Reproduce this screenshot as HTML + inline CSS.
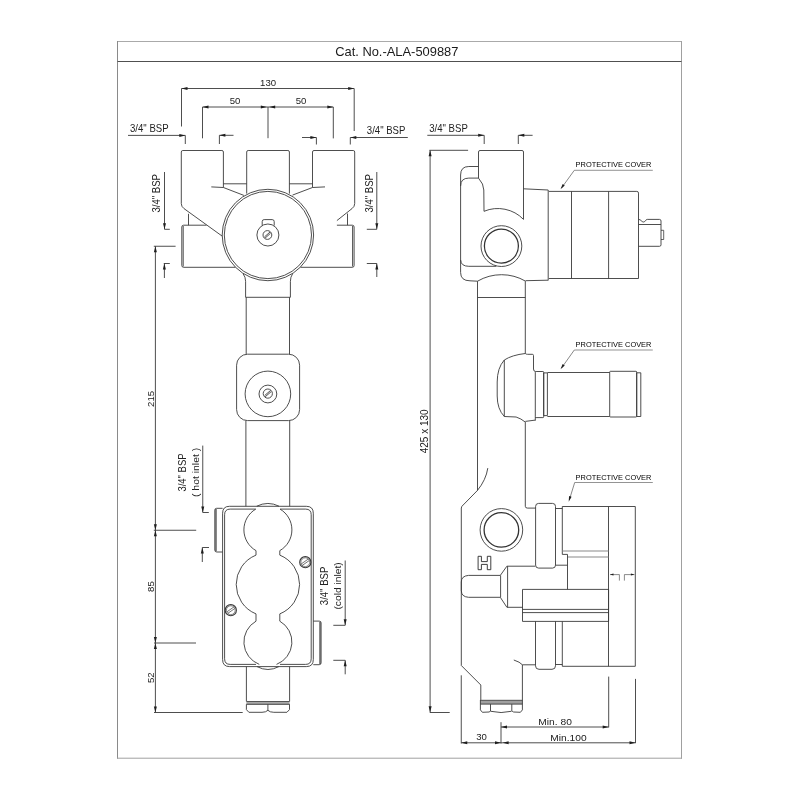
<!DOCTYPE html>
<html><head><meta charset="utf-8"><title>Cat. No.-ALA-509887</title>
<style>
html,body{margin:0;padding:0;background:#fff;}
svg{display:block;will-change:transform;}
svg text{font-family:"Liberation Sans", sans-serif;}
.ar{fill:#1e1e1e;stroke:none;}
</style></head>
<body>
<svg width="800" height="800" viewBox="0 0 800 800">
<rect width="800" height="800" fill="#fff"/>
<g fill="none" stroke="#3a3a3a" stroke-width="0.9" stroke-linecap="butt" stroke-linejoin="round">
<line x1="117.5" y1="41.5" x2="681.5" y2="41.5" stroke-width="1" stroke="#aaa"/>
<line x1="117.5" y1="41" x2="117.5" y2="758.7" stroke-width="1" stroke="#8a8a8a"/>
<line x1="681.5" y1="41" x2="681.5" y2="758.7" stroke-width="1" stroke="#a0a0a0"/>
<line x1="117" y1="758.2" x2="682" y2="758.2" stroke-width="1" stroke="#a0a0a0"/>
<line x1="117.5" y1="61.5" x2="681.5" y2="61.5" stroke-width="1" stroke="#505050"/>
<text x="335.2" y="56" font-size="12.6" fill="#1a1a1a" stroke="none" textLength="123.2" lengthAdjust="spacingAndGlyphs">Cat. No.-ALA-509887</text>
<line x1="181.5" y1="88.5" x2="354.2" y2="88.5"/>
<path class="ar" d="M181.5,88.5 L187.5,87 L187.5,90 Z"/>
<path class="ar" d="M354.2,88.5 L348.2,90 L348.2,87 Z"/>
<line x1="181.5" y1="88.5" x2="181.5" y2="126.5"/>
<line x1="354.2" y1="88.5" x2="354.2" y2="131"/>
<text x="268.1" y="86.2" font-size="9.6" fill="#222" stroke="none" text-anchor="middle">130</text>
<line x1="202.5" y1="107" x2="333.3" y2="107"/>
<path class="ar" d="M202.5,107 L208.5,105.5 L208.5,108.5 Z"/>
<path class="ar" d="M266.8,107 L260.8,108.5 L260.8,105.5 Z"/>
<path class="ar" d="M269.2,107 L275.2,105.5 L275.2,108.5 Z"/>
<path class="ar" d="M333.3,107 L327.3,108.5 L327.3,105.5 Z"/>
<line x1="202.5" y1="107" x2="202.5" y2="138.3"/>
<line x1="268" y1="107" x2="268" y2="138.2"/>
<line x1="333.3" y1="107" x2="333.3" y2="138.4"/>
<text x="235" y="104.4" font-size="9.6" fill="#222" stroke="none" text-anchor="middle">50</text>
<text x="301" y="104.4" font-size="9.6" fill="#222" stroke="none" text-anchor="middle">50</text>
<text x="130" y="131.9" font-size="10.2" fill="#222" stroke="none" textLength="38.6" lengthAdjust="spacingAndGlyphs">3/4&quot; BSP</text>
<line x1="128" y1="135.4" x2="185.3" y2="135.4"/>
<path class="ar" d="M185.3,135.4 L179.3,136.9 L179.3,133.9 Z"/>
<line x1="185.3" y1="135.4" x2="185.3" y2="144"/>
<line x1="219.4" y1="135.3" x2="233.5" y2="135.3"/>
<path class="ar" d="M219.4,135.3 L225.4,133.8 L225.4,136.8 Z"/>
<line x1="219.4" y1="135.3" x2="219.4" y2="144"/>
<line x1="302" y1="137.5" x2="316.4" y2="137.5"/>
<path class="ar" d="M316.4,137.5 L310.4,139 L310.4,136 Z"/>
<line x1="316.4" y1="137.5" x2="316.4" y2="144.5"/>
<line x1="350.3" y1="137.5" x2="407.8" y2="137.5"/>
<path class="ar" d="M350.3,137.5 L356.3,136 L356.3,139 Z"/>
<line x1="350.3" y1="137.5" x2="350.3" y2="144.5"/>
<text x="366.8" y="133.8" font-size="10.2" fill="#222" stroke="none" textLength="38.6" lengthAdjust="spacingAndGlyphs">3/4&quot; BSP</text>
<text x="160.2" y="212.6" font-size="10.2" fill="#222" stroke="none" textLength="38.6" lengthAdjust="spacingAndGlyphs" transform="rotate(-90 160.2 212.6)">3/4&quot; BSP</text>
<line x1="164.5" y1="172" x2="164.5" y2="229.3"/>
<path class="ar" d="M164.5,229.3 L163,223.3 L166,223.3 Z"/>
<line x1="164.5" y1="229.3" x2="169.8" y2="229.3"/>
<line x1="163.8" y1="263.5" x2="169.8" y2="263.5"/>
<line x1="164.4" y1="263.5" x2="164.4" y2="278"/>
<path class="ar" d="M164.4,263.5 L165.9,269.5 L162.9,269.5 Z"/>
<text x="373.4" y="212.6" font-size="10.2" fill="#222" stroke="none" textLength="38.6" lengthAdjust="spacingAndGlyphs" transform="rotate(-90 373.4 212.6)">3/4&quot; BSP</text>
<line x1="376.8" y1="172" x2="376.8" y2="229.3"/>
<path class="ar" d="M376.8,229.3 L375.3,223.3 L378.3,223.3 Z"/>
<line x1="366.8" y1="229.3" x2="376.8" y2="229.3"/>
<line x1="366.8" y1="263.5" x2="376.8" y2="263.5"/>
<line x1="376.8" y1="263.5" x2="376.8" y2="277"/>
<path class="ar" d="M376.8,263.5 L378.3,269.5 L375.3,269.5 Z"/>
<line x1="155.4" y1="246.25" x2="155.4" y2="712.5"/>
<line x1="153.8" y1="246.25" x2="175.6" y2="246.25"/>
<path class="ar" d="M155.4,246.25 L156.9,252.25 L153.9,252.25 Z"/>
<path class="ar" d="M155.4,530.25 L153.9,524.25 L156.9,524.25 Z"/>
<line x1="153.8" y1="530.25" x2="196.2" y2="530.25"/>
<path class="ar" d="M155.4,530.25 L156.9,536.25 L153.9,536.25 Z"/>
<path class="ar" d="M155.4,643 L153.9,637 L156.9,637 Z"/>
<line x1="154" y1="643" x2="196" y2="643"/>
<path class="ar" d="M155.4,643 L156.9,649 L153.9,649 Z"/>
<path class="ar" d="M155.4,712.5 L153.9,706.5 L156.9,706.5 Z"/>
<line x1="154" y1="712.5" x2="242.7" y2="712.5"/>
<text x="153.9" y="398.9" font-size="9.6" fill="#222" stroke="none" transform="rotate(-90 153.9 398.9)" text-anchor="middle">215</text>
<text x="153.9" y="586.6" font-size="9.6" fill="#222" stroke="none" transform="rotate(-90 153.9 586.6)" text-anchor="middle">85</text>
<text x="153.9" y="677.7" font-size="9.6" fill="#222" stroke="none" transform="rotate(-90 153.9 677.7)" text-anchor="middle">52</text>
<text x="186.3" y="491.6" font-size="10.2" fill="#222" stroke="none" textLength="38.2" lengthAdjust="spacingAndGlyphs" transform="rotate(-90 186.3 491.6)">3/4&quot; BSP</text>
<text x="198.8" y="497" font-size="9.6" fill="#222" stroke="none" textLength="49.2" lengthAdjust="spacingAndGlyphs" transform="rotate(-90 198.8 497)">( hot inlet )</text>
<line x1="202.75" y1="445.6" x2="202.75" y2="512.5"/>
<path class="ar" d="M202.75,512.5 L201.25,506.5 L204.25,506.5 Z"/>
<line x1="202.75" y1="512.5" x2="208.8" y2="512.5"/>
<line x1="202.3" y1="547.5" x2="209" y2="547.5"/>
<line x1="202.3" y1="547.5" x2="202.3" y2="562"/>
<path class="ar" d="M202.3,547.5 L203.8,553.5 L200.8,553.5 Z"/>
<text x="328.4" y="605.2" font-size="10.2" fill="#222" stroke="none" textLength="38.6" lengthAdjust="spacingAndGlyphs" transform="rotate(-90 328.4 605.2)">3/4&quot; BSP</text>
<text x="340.6" y="609.6" font-size="9.6" fill="#222" stroke="none" textLength="47.4" lengthAdjust="spacingAndGlyphs" transform="rotate(-90 340.6 609.6)">(cold inlet)</text>
<line x1="345.2" y1="560.5" x2="345.2" y2="625.3"/>
<path class="ar" d="M345.2,625.3 L343.7,619.3 L346.7,619.3 Z"/>
<line x1="333.3" y1="625.3" x2="345.2" y2="625.3"/>
<line x1="333.3" y1="660.3" x2="345.2" y2="660.3"/>
<line x1="345.2" y1="660.3" x2="345.2" y2="674.3"/>
<path class="ar" d="M345.2,660.3 L346.7,666.3 L343.7,666.3 Z"/>
<path d="M222,236 L184,208.6 Q181.3,206.6 181.3,203.6 L181.3,152 Q181.3,150.5 182.8,150.5 L221.9,150.5 Q223.4,150.5 223.4,152 L223.4,187.5"/>
<path d="M211.3,186.9 L223.4,187.5 L243.9,195.4"/>
<line x1="223.4" y1="183.8" x2="246.7" y2="183.8"/>
<path d="M246.7,193.6 L246.7,152 Q246.7,150.5 248.2,150.5 L287.9,150.5 Q289.4,150.5 289.4,152 L289.4,193.6"/>
<line x1="289.4" y1="183.8" x2="312.5" y2="183.8"/>
<path d="M292.5,195.1 L312.5,187.5 L325,186.9"/>
<path d="M312.5,187.5 L312.5,152 Q312.5,150.5 314,150.5 L353.2,150.5 Q354.7,150.5 354.7,152 L354.7,203.6 Q354.7,206.6 352,208.6 L336.9,220.6"/>
<line x1="188.5" y1="213.8" x2="188.5" y2="225.2"/>
<line x1="347.5" y1="213.5" x2="347.5" y2="225.2"/>
<path d="M206.5,225.2 L183.6,225.2 Q181.8,225.2 181.8,227 L181.8,265.5 Q181.8,267.3 183.6,267.3 L235.5,267.3"/>
<line x1="183.2" y1="226" x2="183.2" y2="266.5"/>
<path d="M336.9,225.2 L352.3,225.2 Q354.1,225.2 354.1,227 L354.1,265.5 Q354.1,267.3 352.3,267.3 L300.4,267.3"/>
<line x1="352.6" y1="226" x2="352.6" y2="266.5"/>
<circle cx="267.9" cy="235" r="45.7"/>
<circle cx="267.9" cy="235" r="43.6"/>
<path d="M262.2,225.6 L262.2,221.6 Q262.2,219.6 264.2,219.6 L272.2,219.6 Q274.2,219.6 274.2,221.6 L274.2,225.6"/>
<circle cx="267.9" cy="235" r="11"/>
<circle cx="267.4" cy="235" r="4.4"/>
<path d="M264.4,237 L270,232"/>
<path d="M265,238.2 L270.6,233.2"/>
<path d="M243.1,273.8 Q245.6,277 245.6,281.3 L245.6,297.3"/>
<path d="M292.6,273.8 Q290.4,277 290.4,281.3 L290.4,297.3"/>
<line x1="245.6" y1="297.3" x2="290.4" y2="297.3"/>
<line x1="246.2" y1="297.3" x2="246.2" y2="354.2"/>
<line x1="289.5" y1="297.3" x2="289.5" y2="354.2"/>
<rect x="236.6" y="354.2" width="63" height="66.4" rx="11"/>
<circle cx="267.9" cy="393.9" r="22.8"/>
<circle cx="267.9" cy="394" r="8.9"/>
<circle cx="267.8" cy="393.6" r="4.6"/>
<path d="M264.6,395.6 L270.6,390.4"/>
<path d="M265.2,396.8 L271.2,391.6"/>
<line x1="245.9" y1="420.6" x2="245.9" y2="506.3"/>
<line x1="289.7" y1="420.6" x2="289.7" y2="506.3"/>
<path d="M222.6,508.3 L216.6,508.3 Q214.8,508.3 214.8,510.1 L214.8,550 Q214.8,552 216.8,552 L222.6,552"/>
<line x1="216" y1="509" x2="216" y2="551.2" stroke-width="1.2"/>
<path d="M313.3,621.1 L319.3,621.1 Q321.1,621.1 321.1,622.9 L321.1,662.8 Q321.1,664.7 319.2,664.7 L313.3,664.7"/>
<line x1="320" y1="621.8" x2="320" y2="664" stroke-width="1.2"/>
<path d="M256.5,506.3 L229.5,506.3 Q222.6,506.3 222.6,513.2 L222.6,659.6 Q222.6,666.6 229.6,666.6 L257,666.6 M278.9,666.6 L306.3,666.6 Q313.3,666.6 313.3,659.6 L313.3,513.2 Q313.3,506.3 306.3,506.3 L279.3,506.3"/>
<line x1="256.5" y1="506.3" x2="279.3" y2="506.3"/>
<line x1="257" y1="666.6" x2="278.9" y2="666.6"/>
<path d="M255.7,509.1 L230.2,509.1 Q224.6,509.1 224.6,514.7 L224.6,658.8 Q224.6,664.4 230.2,664.4 L256,664.4 M280,664.4 L305.6,664.4 Q311.2,664.4 311.2,658.8 L311.2,514.7 Q311.2,509.1 305.6,509.1 L280.1,509.1"/>
<path d="M256.5,506.3 Q267.9,500.6 279.3,506.3"/>
<path d="M257,666.6 Q267.9,672.4 278.9,666.6"/>
<path d="M280.05,509.1 A24,24 0 0 1 279.8,550.64 L279.8,555.12 A31.7,31.7 0 0 1 279.8,613.88 L279.8,621.16 A24,24 0 0 1 276.52,664.4"/>
<path d="M255.75,509.1 A24,24 0 0 0 256,550.64 L256,555.12 A31.7,31.7 0 0 0 256,613.88 L256,621.16 A24,24 0 0 0 259.28,664.4"/>
<circle cx="305.3" cy="562.2" r="5.6" stroke-width="1.1"/>
<circle cx="305.3" cy="562.2" r="4.4" stroke-width="0.6"/>
<line x1="301.26" y1="563.93" x2="308.31" y2="559" stroke-width="0.7"/>
<line x1="302.29" y1="565.4" x2="309.34" y2="560.47" stroke-width="0.7"/>
<circle cx="230.8" cy="610.2" r="5.6" stroke-width="1.1"/>
<circle cx="230.8" cy="610.2" r="4.4" stroke-width="0.6"/>
<line x1="226.76" y1="611.93" x2="233.81" y2="607" stroke-width="0.7"/>
<line x1="227.79" y1="613.4" x2="234.84" y2="608.47" stroke-width="0.7"/>
<line x1="246.4" y1="666.6" x2="246.4" y2="701.4"/>
<line x1="289.6" y1="666.6" x2="289.6" y2="701.4"/>
<rect x="246.4" y="701" width="43.2" height="3.4" fill="#a8a8a8" stroke="none"/>
<line x1="246.4" y1="701.5" x2="289.6" y2="701.5" stroke-width="1.2" stroke="#555"/>
<line x1="246.4" y1="704.3" x2="289.6" y2="704.3"/>
<path d="M246.4,704.3 L246.4,709.6 L248.9,712.3 L262,712.3 Q266,712.3 267.9,710.3 Q269.8,712.3 273.8,712.3 L286.9,712.3 L289.5,709.6 L289.5,704.3"/>
<line x1="267.9" y1="704.3" x2="267.9" y2="710.6"/>
<text x="429.2" y="131.9" font-size="10.2" fill="#222" stroke="none" textLength="38.6" lengthAdjust="spacingAndGlyphs">3/4&quot; BSP</text>
<line x1="427.3" y1="135.3" x2="484.2" y2="135.3"/>
<path class="ar" d="M484.2,135.3 L478.2,136.8 L478.2,133.8 Z"/>
<line x1="484.2" y1="135.3" x2="484.2" y2="144"/>
<line x1="518.3" y1="135.3" x2="532.6" y2="135.3"/>
<path class="ar" d="M518.3,135.3 L524.3,133.8 L524.3,136.8 Z"/>
<line x1="518.3" y1="135.3" x2="518.3" y2="144"/>
<line x1="430.1" y1="150.3" x2="430.1" y2="712.3"/>
<path class="ar" d="M430.1,150.3 L431.6,156.3 L428.6,156.3 Z"/>
<path class="ar" d="M430.1,712.3 L428.6,706.3 L431.6,706.3 Z"/>
<line x1="429.4" y1="150.3" x2="468.1" y2="150.3"/>
<line x1="429.8" y1="712.5" x2="449.7" y2="712.5"/>
<text x="428.1" y="431.3" font-size="10" fill="#222" stroke="none" transform="rotate(-90 428.1 431.3)" text-anchor="middle">425 x 130</text>
<line x1="461.25" y1="675.3" x2="461.25" y2="743.5"/>
<line x1="501" y1="722.2" x2="501" y2="743.5"/>
<line x1="461.25" y1="742.8" x2="635.5" y2="742.8"/>
<path class="ar" d="M461.25,742.8 L467.25,741.3 L467.25,744.3 Z"/>
<path class="ar" d="M501,742.8 L495,744.3 L495,741.3 Z"/>
<path class="ar" d="M502.6,742.8 L508.6,741.3 L508.6,744.3 Z"/>
<path class="ar" d="M635.5,742.8 L629.5,744.3 L629.5,741.3 Z"/>
<text x="481.5" y="740.2" font-size="9.6" fill="#222" stroke="none" text-anchor="middle">30</text>
<line x1="501" y1="727" x2="608.7" y2="727"/>
<path class="ar" d="M501,727 L507,725.5 L507,728.5 Z"/>
<path class="ar" d="M608.7,727 L602.7,728.5 L602.7,725.5 Z"/>
<line x1="608.7" y1="676.6" x2="608.7" y2="727.4"/>
<line x1="635.5" y1="678.9" x2="635.5" y2="743.1"/>
<text x="538.3" y="724.8" font-size="9.6" fill="#222" stroke="none" textLength="33.6" lengthAdjust="spacingAndGlyphs">Min. 80</text>
<text x="550.3" y="740.5" font-size="9.6" fill="#222" stroke="none" textLength="36.4" lengthAdjust="spacingAndGlyphs">Min.100</text>
<path d="M478.5,178.1 L478.5,152 Q478.5,150.5 480,150.5 L522,150.5 Q523.5,150.5 523.5,152 L523.5,219.4"/>
<path d="M478.5,178.1 Q483.8,184 483.8,190 L484,211.3 A35.8,35.8 0 0 1 523.5,219.4"/>
<path d="M478.5,166.5 L468.8,166.5 Q460.6,166.5 460.6,175"/>
<path d="M478.5,178.1 L468.8,178.1 Q460.6,178.1 460.6,186"/>
<line x1="460.6" y1="175" x2="460.6" y2="272.5"/>
<path d="M460.6,272.5 Q460.6,280.8 470,280.8 L477.5,281.2"/>
<path d="M477.5,281.2 A47.7,47.7 0 0 1 525.6,281.2"/>
<line x1="525.6" y1="280.7" x2="548.2" y2="280.2"/>
<line x1="523.5" y1="188.8" x2="548.2" y2="190"/>
<line x1="548.2" y1="190" x2="548.2" y2="280.4"/>
<path d="M460.6,260 Q461,266.3 468.8,266.3 L496.3,266.3"/>
<circle cx="501.4" cy="246.1" r="20.4"/>
<circle cx="501.4" cy="246.1" r="17" stroke-width="1.3" stroke="#333"/>
<line x1="477.5" y1="281.2" x2="477.5" y2="490.6"/>
<line x1="525.3" y1="281.2" x2="525.3" y2="353.5"/>
<line x1="477.5" y1="297.5" x2="525.3" y2="297.5"/>
<path d="M548.8,191.4 L636.8,191.4 Q638.5,191.4 638.5,193.1 L638.5,278.5 L548.8,278.5"/>
<line x1="571.5" y1="191.4" x2="571.5" y2="278.5"/>
<line x1="608.6" y1="191.4" x2="608.6" y2="278.5"/>
<path d="M638.6,219.4 C641,219.4 641.5,222 643.5,222 C645.5,222 645.4,219.4 647.3,219.4 L659.5,219.4 Q661,219.4 661,221 L661,244.8 Q661,246.3 659.5,246.3 L638.6,246.3"/>
<line x1="638.6" y1="224.5" x2="661" y2="224.5"/>
<path d="M661,230.3 L663.7,230.3 L663.7,239.5 L661,239.5" stroke-width="0.8"/>
<text x="575.6" y="167.3" font-size="7.8" fill="#000" stroke="none" textLength="75.8" lengthAdjust="spacingAndGlyphs">PROTECTIVE COVER</text>
<line x1="574.3" y1="170.3" x2="652.8" y2="170.3" stroke-width="0.7" stroke="#666"/>
<line x1="574.3" y1="170.3" x2="561.5" y2="188" stroke-width="0.7" stroke="#555"/>
<path class="ar" d="M560.5,189.3 L562.67,184.08 L564.77,185.6 Z"/>
<path d="M525.3,353.5 Q526,354.3 527.5,354.3 L532.3,354.3 Q533.5,354.3 533.5,355.5 L533.5,369 Q533.5,371.5 535.6,371.5"/>
<path d="M525.3,353.5 Q512,355 504.3,360"/>
<path d="M504.3,360 Q497.2,368 497.2,382 L497.2,396 Q497.2,409 504.3,416.5"/>
<line x1="504.3" y1="360" x2="504.3" y2="416.5"/>
<path d="M504.3,416.5 L516.1,417 Q521,418.5 525.3,422.1"/>
<line x1="525.3" y1="421.4" x2="535.3" y2="420.1"/>
<rect x="535.3" y="371.5" width="8.4" height="46.1" rx="0.8"/>
<line x1="535.3" y1="417" x2="535.3" y2="420.6"/>
<rect x="543.7" y="372.9" width="3.7" height="42.7" rx="0"/>
<path d="M547.4,372.5 L609.7,372.5 M547.4,416.5 L609.7,416.5"/>
<rect x="609.7" y="371.3" width="27" height="45.7" rx="0.8"/>
<rect x="636.7" y="372.8" width="4.1" height="43.7" rx="0"/>
<line x1="525.3" y1="422.1" x2="525.3" y2="506.3"/>
<text x="575.6" y="347.1" font-size="7.8" fill="#000" stroke="none" textLength="75.8" lengthAdjust="spacingAndGlyphs">PROTECTIVE COVER</text>
<line x1="574.3" y1="350" x2="652.8" y2="350" stroke-width="0.7" stroke="#666"/>
<line x1="574.3" y1="350" x2="561.5" y2="368" stroke-width="0.7" stroke="#555"/>
<path class="ar" d="M560.5,369.3 L562.64,364.07 L564.76,365.58 Z"/>
<path d="M487.8,468.1 Q486,480 477.3,490.6"/>
<path d="M477.3,490.6 L461.9,506.3 L461.3,508 L461.3,665.5 L480.8,685 L480.8,700"/>
<path d="M525.3,506.3 Q525.3,508.1 527.5,508.1 L535.6,508.1"/>
<circle cx="501.4" cy="529.9" r="21.3"/>
<circle cx="501.4" cy="529.9" r="17.3" stroke-width="1.3" stroke="#333"/>
<path d="M478.1,556.3 L481.4,556.3 L481.4,561.6 L487.3,561.6 L487.3,556.3 L490.8,556.3 L490.8,569.7 L487.3,569.7 L487.3,564.4 L481.4,564.4 L481.4,569.7 L478.1,569.7 Z" stroke-width="0.9" stroke="#2a2a2a"/>
<path d="M500.3,575.4 L468.5,575.4 Q461.3,576 461.3,582 L461.3,590.5 Q461.3,596.8 468.5,597.3 L500.3,597.3"/>
<line x1="500.6" y1="575.4" x2="500.6" y2="597.3"/>
<path d="M500.3,575.4 L506.9,566.2 L535.3,566.2"/>
<path d="M500.3,597.3 L506.9,607.3 L522.5,607.3"/>
<line x1="507.6" y1="566.2" x2="507.6" y2="607.3"/>
<rect x="535.6" y="503.4" width="19.9" height="64.7" rx="3"/>
<line x1="555.5" y1="508.5" x2="562.3" y2="508.5"/>
<path d="M562.3,554.4 L562.3,506.5 L635.3,506.5 L635.3,666.3 L562.3,666.3 L562.3,621.4"/>
<line x1="608.5" y1="506.5" x2="608.5" y2="666.3"/>
<line x1="562.5" y1="551" x2="608.5" y2="551" stroke-width="1.1" stroke="#8a8a8a"/>
<line x1="567.5" y1="557" x2="608.5" y2="557" stroke-width="1.1" stroke="#8a8a8a"/>
<path d="M562.3,554.4 L567.5,554.4 L567.5,589.4"/>
<line x1="555.5" y1="565.2" x2="567.5" y2="565.2"/>
<rect x="522.5" y="589.4" width="86.1" height="32" rx="0"/>
<line x1="522.5" y1="609.4" x2="608.6" y2="609.4"/>
<line x1="522.5" y1="612.6" x2="608.6" y2="612.6"/>
<path d="M535.5,621.4 L535.5,665.8 Q535.5,669.3 539,669.3 L552,669.3 Q555.5,669.3 555.5,665.8 L555.5,621.4"/>
<path d="M555.5,664.5 L562.3,664.5"/>
<path d="M513.8,660 Q520,662 522.4,664.8 L535.5,664.8"/>
<line x1="522.4" y1="664.8" x2="522.4" y2="700"/>
<line x1="610" y1="574.6" x2="619.4" y2="574.6" stroke-width="0.6"/>
<path class="ar" d="M610,574.6 L613.5,573.6 L613.5,575.6 Z"/>
<line x1="619.4" y1="574.6" x2="619.4" y2="580.6" stroke-width="0.6"/>
<line x1="624.4" y1="574.6" x2="624.4" y2="580.6" stroke-width="0.6"/>
<line x1="624.4" y1="574.6" x2="634.4" y2="574.6" stroke-width="0.6"/>
<path class="ar" d="M634.4,574.6 L630.9,575.6 L630.9,573.6 Z"/>
<text x="575.6" y="479.7" font-size="7.8" fill="#000" stroke="none" textLength="75.8" lengthAdjust="spacingAndGlyphs">PROTECTIVE COVER</text>
<line x1="574.7" y1="482.5" x2="652.8" y2="482.5" stroke-width="0.7" stroke="#666"/>
<line x1="574.7" y1="482.5" x2="569.3" y2="500" stroke-width="0.7" stroke="#555"/>
<path class="ar" d="M568.7,501.7 L569.1,496.06 L571.58,496.84 Z"/>
<rect x="480.4" y="700" width="42" height="4.1" fill="#a0a0a0" stroke="none"/>
<line x1="480.4" y1="700.3" x2="522.4" y2="700.3" stroke-width="1" stroke="#555"/>
<line x1="480.4" y1="704.1" x2="522.4" y2="704.1"/>
<path d="M480.4,700 L480.4,709.9 L482.4,712.3 L489,712 L490.4,711.3 M490.8,711.3 Q501.1,713.8 511.4,711.3 M512.2,711.3 L513.6,712 L520.4,712.3 L522.4,709.9 L522.4,700"/>
<line x1="490.5" y1="704.1" x2="490.5" y2="711.3"/>
<line x1="511.8" y1="704.1" x2="511.8" y2="711.3"/>
</g>
</svg>
</body></html>
